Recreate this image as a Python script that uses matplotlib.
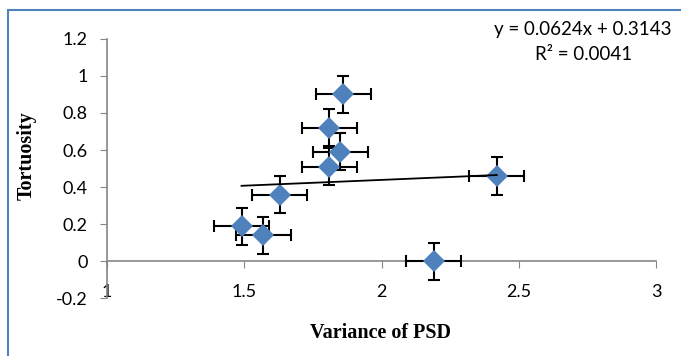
import numpy as np
import matplotlib
matplotlib.use("Agg")
import matplotlib.pyplot as plt
from matplotlib.patches import Rectangle

# data
psd_var = [1.86, 1.81, 1.85, 1.81, 2.42, 1.63, 1.49, 1.57, 2.19]
tortuosity = [0.90, 0.72, 0.59, 0.51, 0.46, 0.36, 0.19, 0.14, 0.00]
x_err = [0.10] * 9
y_err = [0.10] * 9

# Excel linear trendline
slope = 0.0624
intercept = 0.3143
r_squared = 0.0041

x_ticks = [1, 1.5, 2, 2.5, 3]
x_tick_labels = ["1", "1.5", "2", "2.5", "3"]
y_ticks = [-0.2, 0, 0.2, 0.4, 0.6, 0.8, 1.0, 1.2]
y_tick_labels = ["-0.2", "0", "0.2", "0.4", "0.6", "0.8", "1", "1.2"]

sans = ["Lato", "DejaVu Sans"]
serif = ["Liberation Serif", "DejaVu Serif"]
axis_gray = "#868686"
marker_blue = "#4F81BD"

fig = plt.figure(figsize=(6.81, 3.56), dpi=100)
W, H = 681, 356

# chart frame (only left and top edges visible in the crop)
fig.patches.append(Rectangle((8 / W, -0.1), 1.2, 1.1 - 10 / H,
                             transform=fig.transFigure, fill=False,
                             edgecolor="#4F81BD", linewidth=1.5))

ax = fig.add_axes([107 / W, 1 - 298.5 / H, (656 - 107) / W, (298.5 - 38.7) / H])
ax.set_xlim(1, 3)
ax.set_ylim(-0.2, 1.2)

ax.errorbar(psd_var, tortuosity, xerr=x_err, yerr=y_err, fmt="none",
            ecolor="black", elinewidth=1.5, capsize=4.5, capthick=1.5, zorder=3)
ax.plot(psd_var, tortuosity, linestyle="none", marker="D", markersize=11,
        color=marker_blue, markeredgewidth=0, zorder=4)

# trendline across the data range
xs = np.array([min(psd_var), max(psd_var)])
ax.plot(xs, slope * xs + intercept, color="black", linewidth=1.3, zorder=5)

for s in ["top", "right"]:
    ax.spines[s].set_visible(False)
ax.spines["bottom"].set_position(("data", 0))
ax.spines["bottom"].set_color(axis_gray)
ax.spines["left"].set_color(axis_gray)
ax.spines["bottom"].set_linewidth(1.2)
ax.spines["left"].set_linewidth(1.2)

ax.set_xticks(x_ticks)
ax.set_xticklabels(x_tick_labels, family=sans, fontsize=13)
ax.set_yticks(y_ticks)
ax.set_yticklabels(y_tick_labels, family=sans, fontsize=13)
ax.tick_params(axis="x", direction="out", length=5, color=axis_gray, pad=11)
ax.tick_params(axis="y", direction="out", length=5, color=axis_gray, pad=9)

fig.text(381 / W, 1 - 333 / H, "Variance of PSD", family=serif, weight="bold",
         fontsize=14.5, ha="center", va="center")
fig.text(27 / W, 1 - 156 / H, "Tortuosity", family=serif, weight="bold",
         fontsize=14.5, ha="center", va="center", rotation=90)

fig.text(583 / W, 1 - 29 / H, f"y = {slope}x + {intercept}", family=sans,
         fontsize=13.5, ha="center", va="center")
fig.text(584 / W, 1 - 54 / H, f"R² = {r_squared}", family=sans,
         fontsize=13.5, ha="center", va="center")

fig.savefig("out.png", dpi=100)
